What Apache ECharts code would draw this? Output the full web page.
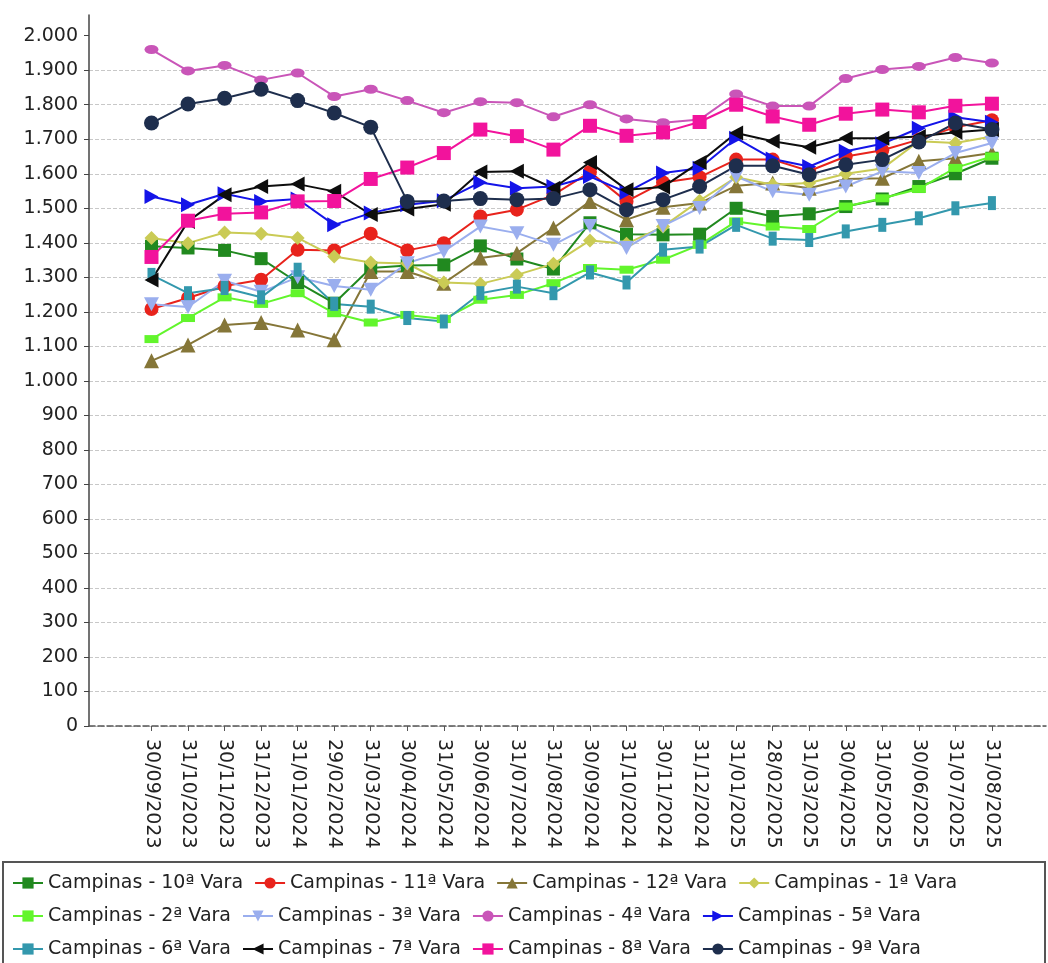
<!DOCTYPE html>
<html>
<head>
<meta charset="utf-8">
<script src="https://cdn.jsdelivr.net/npm/echarts@6/dist/echarts.min.js"></script>
<style>
html,body{margin:0;padding:0;background:#fff;}
#chart{width:1048px;height:963px;}
</style>
</head>
<body>
<div id="chart"></div>
<script>
const categories = ['30/09/2023','31/10/2023','30/11/2023','31/12/2023','31/01/2024','29/02/2024','31/03/2024','30/04/2024','31/05/2024','30/06/2024','31/07/2024','31/08/2024','30/09/2024','31/10/2024','30/11/2024','31/12/2024','31/01/2025','28/02/2025','31/03/2025','30/04/2025','31/05/2025','30/06/2025','31/07/2025','31/08/2025'];
const yTicks = [0,100,200,300,400,500,600,700,800,900,1000,1100,1200,1300,1400,1500,1600,1700,1800,1900,2000];

const vara10 = [1390,1385,1378,1354,1285,1225,1327,1334,1336,1391,1353,1324,1458,1425,1423,1425,1500,1476,1484,1505,1527,1563,1600,1645];
const vara11 = [1208,1240,1275,1293,1380,1378,1426,1378,1399,1476,1496,1539,1605,1520,1575,1590,1641,1641,1608,1650,1668,1699,1735,1755];
const vara12 = [1058,1104,1162,1169,1147,1119,1317,1317,1283,1356,1370,1443,1520,1467,1503,1515,1565,1573,1558,1585,1587,1636,1645,1660];
const vara1  = [1414,1399,1430,1426,1414,1360,1343,1340,1285,1281,1307,1339,1407,1397,1447,1522,1590,1568,1573,1600,1615,1694,1689,1708];
const vara2  = [1121,1182,1242,1223,1254,1196,1169,1191,1179,1235,1249,1283,1327,1322,1351,1394,1462,1447,1440,1505,1529,1556,1617,1650];
const vara3  = [1222,1214,1290,1258,1300,1275,1264,1341,1375,1447,1428,1394,1449,1385,1449,1501,1592,1549,1539,1563,1607,1602,1660,1689];
const vara4  = [1960,1898,1914,1872,1892,1824,1845,1812,1777,1809,1806,1765,1800,1759,1748,1757,1831,1796,1796,1876,1902,1911,1937,1921];
const vara5  = [1534,1510,1542,1520,1527,1452,1486,1510,1522,1575,1558,1563,1592,1546,1602,1616,1703,1643,1621,1665,1687,1732,1764,1749];
const vara6  = [1307,1254,1269,1242,1322,1223,1215,1182,1172,1254,1273,1254,1314,1285,1380,1389,1452,1412,1408,1433,1452,1471,1500,1515];
const vara7  = [1292,1462,1539,1563,1570,1549,1482,1498,1512,1605,1607,1558,1633,1554,1562,1633,1718,1694,1677,1703,1703,1708,1720,1728];
const vara8  = [1359,1464,1484,1488,1520,1521,1585,1618,1660,1728,1709,1670,1739,1710,1720,1750,1800,1766,1742,1774,1786,1778,1797,1803];
const vara9  = [1747,1802,1819,1845,1812,1776,1735,1520,1521,1528,1525,1528,1554,1496,1525,1563,1623,1623,1597,1626,1641,1692,1747,1728];

const FONT = 'DejaVu Sans';
const catIdx = categories.map((c, i) => i);

const defs = [
  {name:'Campinas - 10ª Vara', data:vara10, color:'#21891f', symbol:'rect', size:13},
  {name:'Campinas - 11ª Vara', data:vara11, color:'#e8231c', symbol:'circle', size:14},
  {name:'Campinas - 12ª Vara', data:vara12, color:'#857638', symbol:'triangle', size:15},
  {name:'Campinas - 1ª Vara',  data:vara1,  color:'#cacb55', symbol:'diamond', size:[14,14]},
  {name:'Campinas - 2ª Vara',  data:vara2,  color:'#62f52c', symbol:'rect', size:[14,8]},
  {name:'Campinas - 3ª Vara',  data:vara3,  color:'#9aaeee', symbol:'path://M0,0 L10,0 L5,10 Z', size:[15,14]},
  {name:'Campinas - 4ª Vara',  data:vara4,  color:'#c955b8', symbol:'path://M0,5 A7,5 0 1,0 14,5 A7,5 0 1,0 0,5 Z', size:[14,9]},
  {name:'Campinas - 5ª Vara',  data:vara5,  color:'#1414e8', symbol:'path://M0,0 L10,5 L0,10 Z', size:[14,15]},
  {name:'Campinas - 6ª Vara',  data:vara6,  color:'#3398ad', symbol:'rect', size:[8,14]},
  {name:'Campinas - 7ª Vara',  data:vara7,  color:'#0d0d0d', symbol:'path://M10,0 L0,5 L10,10 Z', size:[14,15]},
  {name:'Campinas - 8ª Vara',  data:vara8,  color:'#f2139c', symbol:'rect', size:14},
  {name:'Campinas - 9ª Vara',  data:vara9,  color:'#1e2e4d', symbol:'circle', size:15}
];

function fmt(v){
  const s = String(Math.round(v));
  return s.replace(/\B(?=(\d{3})+(?!\d))/g, '.');
}

const chart = echarts.init(document.getElementById('chart'), null, {renderer:'canvas'});
chart.setOption({
  backgroundColor:'#ffffff',
  animation:false,
  textStyle:{fontFamily:FONT},
  grid:{left:89, right:2, top:15, bottom:237, containLabel:false},
  graphic:[{
    type:'rect', silent:true,
    shape:{x:3, y:862, width:1042, height:120},
    style:{fill:'none', stroke:'#555', lineWidth:2}
  }],
  legend:{
    left:12, top:872, width:1010, padding:0,
    itemWidth:30, itemHeight:14, itemGap:11,
    textStyle:{fontFamily:FONT, fontSize:19, color:'#222', lineHeight:22},
    data:defs.map(d=>d.name)
  },
  xAxis:{
    type:'value', min:-1.71, max:24.48,
    axisLine:{show:true, onZero:false, lineStyle:{color:'#555', width:1.5, type:'dashed'}},
    axisTick:{show:true, length:5, customValues:catIdx, lineStyle:{color:'#555'}},
    axisLabel:{
      customValues:catIdx, rotate:-90, margin:13,
      fontFamily:FONT, fontSize:19, color:'#222',
      formatter:(v)=>categories[Math.round(v)] || ''
    },
    splitLine:{show:false}
  },
  yAxis:{
    type:'value', min:0, max:2060, interval:100,
    axisLine:{show:true, onZero:false, lineStyle:{color:'#444', width:1.5}},
    axisTick:{show:true, length:5, customValues:yTicks, lineStyle:{color:'#444'}},
    axisLabel:{customValues:yTicks, margin:11, fontFamily:FONT, fontSize:19, color:'#222', formatter:fmt},
    splitLine:{show:true, showMaxLine:false, lineStyle:{color:'#c8c8c8', type:'dashed', width:1}}
  },
  series:defs.map(d=>({
    name:d.name, type:'line',
    data:d.data.map((v,i)=>[i,v]),
    symbol:d.symbol, symbolSize:d.size, showAllSymbol:true,
    itemStyle:{color:d.color},
    lineStyle:{color:d.color, width:2},
    emphasis:{disabled:true}
  }))
});
</script>
</body>
</html>
